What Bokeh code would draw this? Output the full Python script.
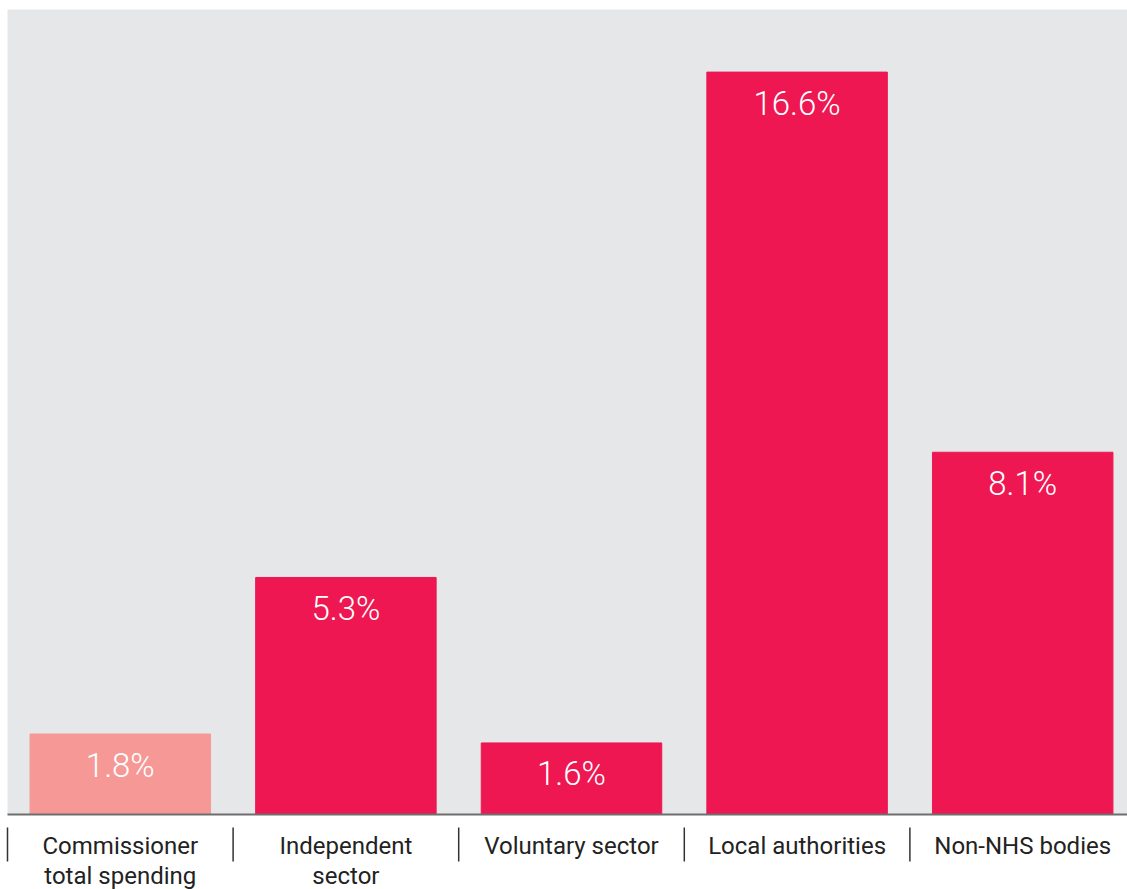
from bokeh.plotting import figure
from bokeh.models import Range1d, BoxAnnotation, ColumnDataSource
from bokeh.core.properties import value
from bokeh.embed import file_html
from bokeh.resources import INLINE

categories = ["Commissioner\ntotal spending", "Independent\nsector", "Voluntary sector",
              "Local authorities", "Non-NHS bodies"]
values = [1.8, 5.3, 1.6, 16.6, 8.1]
value_labels = ["1.8%", "5.3%", "1.6%", "16.6%", "8.1%"]
bar_colors = ["#F59896", "#EE1752", "#EE1752", "#EE1752", "#EE1752"]
y_max = 18

W, H = 1127, 889
left_px, top_px, base_px, cat_px = 7, 9, 814, 225.6
ppu = (base_px - top_px) / y_max

p = figure(width=W, height=H, output_backend="svg", toolbar_location=None,
           x_range=Range1d(-left_px / cat_px, (W - left_px) / cat_px),
           y_range=Range1d(-(H - base_px) / ppu, y_max + top_px / ppu),
           min_border=0, x_axis_type=None, y_axis_type=None)
p.xgrid.visible = False
p.ygrid.visible = False
p.outline_line_color = None
p.background_fill_color = "white"
p.border_fill_color = "white"

p.add_layout(BoxAnnotation(left=0, bottom=0, top=y_max, fill_color="#E6E7E8",
                           fill_alpha=1, line_color=None, level="underlay"))

xs = [i + 0.5 for i in range(len(categories))]
src = ColumnDataSource(dict(x=xs, top=values, color=bar_colors, lab=value_labels, cat=categories))

p.vbar(x="x", top="top", bottom=0, width=0.8, color="color", source=src)

p.segment(x0=0, x1=len(categories) + 1, y0=0, y1=0, line_color="#6E6E6E", line_width=2)

sep_x = list(range(len(categories)))
p.segment(x0=sep_x, x1=sep_x, y0=[-(827 - base_px) / ppu] * len(sep_x),
          y1=[-(861 - base_px) / ppu] * len(sep_x), line_color="#333333", line_width=1.5)

p.text(x="x", y="top", text="lab", source=src, text_color="white",
       text_font=value("Roboto Light, Roboto"), text_font_size="33px", text_align="center",
       text_baseline="middle", y_offset=31)

p.text(x="x", y=0, text="cat", source=src, text_color="#222222",
       text_font=value("Roboto"), text_font_size="24px", text_align="center",
       text_baseline="top", y_offset=17, text_line_height=1.08)

open("out.html", "w").write(file_html(p, INLINE))
